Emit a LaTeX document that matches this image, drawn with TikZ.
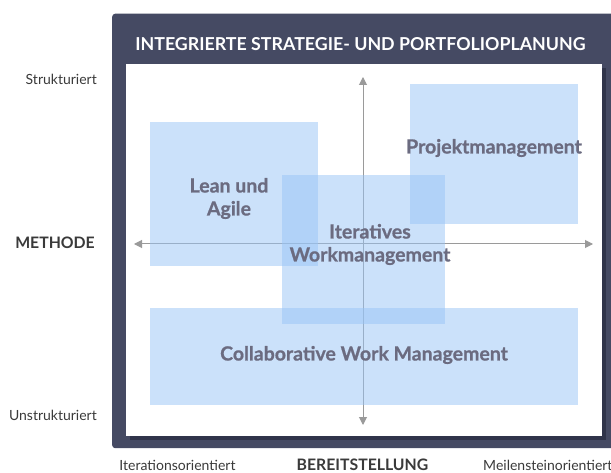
\documentclass[tikz,border=0pt]{standalone}
\usepackage{fontspec}
\setmainfont{Lato}
\newfontfamily\heavyfont{Lato}[BoldFeatures={FakeBold=0.8}]
\usetikzlibrary{arrows.meta}
\definecolor{framec}{HTML}{454A63}
\definecolor{shadowc}{HTML}{30344A}
\definecolor{boxc}{RGB}{153,197,247}
\definecolor{boxtext}{HTML}{6B6B80}
\definecolor{axisc}{HTML}{9A9A9A}
\definecolor{labelc}{HTML}{3A3A3A}
\tikzset{
  box/.style={fill=boxc, fill opacity=0.5, draw=none, inner sep=0pt},
  boxlabel/.style={text=boxtext, font=\fontsize{19.5}{23}\selectfont\heavyfont\bfseries, align=center, inner sep=0pt},
  axislabel/.style={text=labelc, font=\fontsize{14}{16}\selectfont, inner sep=0pt},
  axistitle/.style={text=labelc, font=\fontsize{15.8}{18}\selectfont\bfseries, inner sep=0pt},
  axisline/.style={draw=axisc, line width=1pt, {Triangle[length=8pt,width=8pt]}-{Triangle[length=8pt,width=8pt]}},
}
\begin{document}
\begin{tikzpicture}[x=1pt,y=-1pt]
\clip (0,0) rectangle (611,473);
\fill[white] (0,0) rectangle (611,473);
% frame
\node (frame) [fill=framec, rounded corners=3pt, minimum width=510pt, minimum height=434.5pt, inner sep=0pt, anchor=north west] at (112,13.5) {};
\node (shadow) [fill=shadowc, minimum width=476pt, minimum height=372pt, inner sep=0pt, anchor=north west] at (130,68) {};
\node (panel) [fill=white, minimum width=476pt, minimum height=372pt, inner sep=0pt, anchor=north west] at (126,63.5) {};
\node (title) [text=white, font=\fontsize{17.8}{20}\selectfont\bfseries, inner sep=0pt] at (360.5,44) {INTEGRIERTE STRATEGIE- UND PORTFOLIOPLANUNG};
% axes
\coordinate (vt) at (363,77);
\coordinate (vb) at (363,425);
\coordinate (hl) at (134,244);
\coordinate (hr) at (593,244);
\draw[axisline] (vt) -- (vb);
\draw[axisline] (hl) -- (hr);
% boxes
\node (lean) [box, minimum width=168pt, minimum height=144pt, anchor=north west] at (150,122) {};
\node (proj) [box, minimum width=168pt, minimum height=140pt, anchor=north west] at (410,84) {};
\node (iter) [box, minimum width=163pt, minimum height=149pt, anchor=north west] at (282,175) {};
\node (collab) [box, minimum width=428pt, minimum height=97pt, anchor=north west] at (150,308) {};
% box labels
\node (leant) [boxlabel] at (229,198.5) {Lean und\\Agile};
\node (projt) [boxlabel] at (494,148) {Projektmanagement};
\node (itert) [boxlabel] at (370,244.5) {Iteratives\\Workmanagement};
\node (collabt) [boxlabel] at (364,355) {Collaborative Work Management};
% axis labels
\node (struk) [axislabel, anchor=east] at (97,79) {Strukturiert};
\node (unstruk) [axislabel, anchor=east] at (97,415) {Unstrukturiert};
\node (methode) [axistitle, anchor=east] at (95,243) {METHODE};
\node (iterat) [axislabel] at (177.5,465) {Iterationsorientiert};
\node (bereit) [axistitle] at (362.5,465) {BEREITSTELLUNG};
\node (meil) [axislabel, anchor=west] at (483,465) {Meilensteinorientiert};
\end{tikzpicture}
\end{document}
